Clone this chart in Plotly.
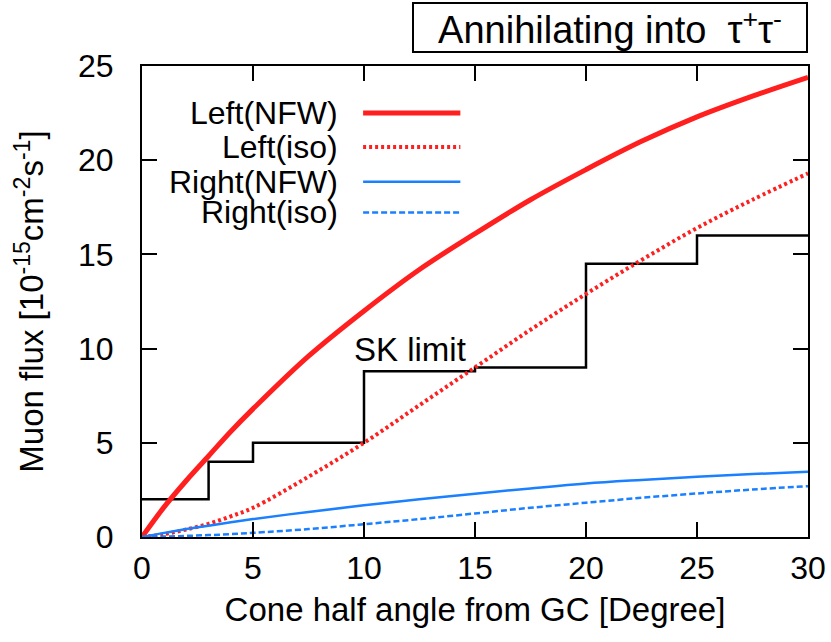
import plotly.graph_objects as go

# cone half angle grid [degree]
angle = [0, 1, 2, 3, 4, 5, 7.5, 10, 12.5, 15, 17.5, 20, 22.5, 25, 27.5, 30]

# muon flux [1e-15 cm^-2 s^-1]
left_nfw = [0, 1.6, 3.0, 4.3, 5.6, 6.8, 9.6, 12.0, 14.2, 16.1, 17.9, 19.5, 21.0, 22.3, 23.4, 24.4]
left_iso = [0, 0.15, 0.4, 0.7, 1.1, 1.55, 3.2, 5.0, 7.0, 9.0, 11.0, 12.9, 14.7, 16.4, 17.9, 19.3]
right_nfw = [0, 0.22, 0.42, 0.6, 0.78, 0.95, 1.33, 1.68, 2.0, 2.3, 2.58, 2.84, 3.03, 3.2, 3.34, 3.46]
right_iso = [0, 0.02, 0.06, 0.1, 0.15, 0.22, 0.42, 0.68, 0.95, 1.25, 1.55, 1.82, 2.08, 2.31, 2.52, 2.7]

# SK limit steps
sk_angle = [0, 3, 5, 10, 15, 20, 25, 30]
sk_limit = [2, 4, 5, 8.8, 9.0, 14.5, 16, 16]

RED = '#ff1f1f'
BLUE = '#1a80ff'
FONT = 'Liberation Sans, Arial, Helvetica, sans-serif'

series = [
    ('Left(NFW)', left_nfw, RED, 5, 'solid'),
    ('Left(iso)', left_iso, RED, 4, '3px,3px'),
    ('Right(NFW)', right_nfw, BLUE, 2.5, 'solid'),
    ('Right(iso)', right_iso, BLUE, 2.5, '6px,3px'),
]

fig = go.Figure()

fig.add_trace(go.Scatter(x=sk_angle, y=sk_limit, mode='lines', line_shape='hv',
                         line=dict(color='black', width=2.5), showlegend=False))

for name, vals, color, width, dash in series:
    fig.add_trace(go.Scatter(x=angle, y=vals, mode='lines', name=name,
                             line=dict(color=color, width=width, dash=dash, shape='spline'),
                             showlegend=False))

# legend: text on the left, sample line on the right (paper coords)
legend_y = [0.900, 0.828, 0.754, 0.689]
for (name, vals, color, width, dash), ly in zip(series, legend_y):
    fig.add_annotation(x=0.297, y=ly, xref='paper', yref='paper', text=name,
                       showarrow=False, xanchor='right', yanchor='middle',
                       font=dict(size=32, color='black', family=FONT))
    fig.add_shape(type='line', xref='paper', yref='paper', x0=0.332, x1=0.478, y0=ly, y1=ly,
                  line=dict(color=color, width=width, dash=dash))

fig.add_annotation(x=12.07, y=9.96, text='SK limit', showarrow=False,
                   font=dict(size=33, color='black', family=FONT))

fig.add_annotation(x=1, y=1.136, xref='paper', yref='paper', xanchor='right', yanchor='top',
                   text='Annihilating into  τ<sup>+</sup>τ<sup>-</sup>', showarrow=False,
                   width=392, height=47, bordercolor='black', borderwidth=2, borderpad=0,
                   bgcolor='white', font=dict(size=38, color='black', family=FONT))

axis_common = dict(showline=True, linecolor='black', linewidth=2, mirror='ticks',
                   ticks='inside', ticklen=15, tickwidth=1.5, tickcolor='black',
                   showgrid=False, zeroline=False, automargin=False,
                   ticklabeloverflow='allow',
                   tickfont=dict(size=32, color='black', family=FONT))

fig.update_xaxes(range=[0, 30], tickvals=[0, 5, 10, 15, 20, 25, 30], ticklabelstandoff=2,
                 title=dict(text='Cone half angle from GC [Degree]', standoff=12,
                            font=dict(size=33, color='black', family=FONT)),
                 **axis_common)
fig.update_yaxes(range=[0, 25], tickvals=[0, 5, 10, 15, 20, 25], ticklabelstandoff=20,
                 title=dict(text='Muon flux [10<sup>-15</sup>cm<sup>-2</sup>s<sup>-1</sup>]', standoff=24,
                            font=dict(size=33, color='black', family=FONT)),
                 **axis_common)

fig.update_layout(width=831, height=642, margin=dict(l=142, r=23, t=66, b=105),
                  plot_bgcolor='white', paper_bgcolor='white',
                  font=dict(family=FONT, color='black'))

# drop the default 8px page margin so the figure fills the window
fig.write_html("out.html", config={'displayModeBar': False},
               post_script="document.body.style.margin='0';")
